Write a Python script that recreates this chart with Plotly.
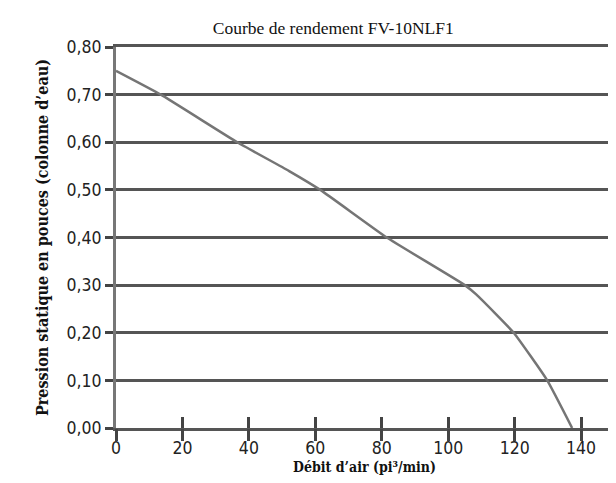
import plotly.graph_objects as go

# Data
airflow = [0, 13.5, 36.5, 52, 61.5, 81.5, 105, 108.5, 119.7, 129.8, 137.3]
pressure = [0.75, 0.70, 0.60, 0.54, 0.50, 0.40, 0.30, 0.28, 0.20, 0.10, 0.00]

x_ticks = [0, 20, 40, 60, 80, 100, 120, 140]
y_ticks = [0.0, 0.1, 0.2, 0.3, 0.4, 0.5, 0.6, 0.7, 0.8]
y_tick_labels = ["0,00", "0,10", "0,20", "0,30", "0,40", "0,50", "0,60", "0,70", "0,80"]

title_text = "Courbe de rendement FV-10NLF1"
x_title = "Débit d’air (pi³/min)"
y_title = "Pression statique en pouces (colonne d’eau)"

tick_font = dict(family="Liberation Sans Narrow, DejaVu Sans Condensed, sans-serif", size=17.5, color="#222")
xt_font = dict(family="DejaVu Serif Condensed, DejaVu Serif, serif", size=14, color="#111")
yt_font = dict(family="DejaVu Serif Condensed, DejaVu Serif, serif", size=16, color="#111")

x_range = [0, 149.6]

fig = go.Figure()
fig.add_trace(go.Scatter(
    x=airflow, y=pressure, mode="lines",
    line=dict(color="#757575", width=2.5, shape="spline", smoothing=0.4),
    hoverinfo="skip", showlegend=False,
))
# invisible traces registering the overlay axes used for the crossing tick marks
for ax in ["x2", "x3"]:
    fig.add_trace(go.Scatter(
        x=airflow, y=pressure, mode="lines", xaxis=ax,
        line=dict(color="rgba(0,0,0,0)", width=0),
        hoverinfo="skip", showlegend=False,
    ))

fig.update_layout(
    width=616, height=483,
    margin=dict(l=108, r=8, t=39, b=63),
    paper_bgcolor="white", plot_bgcolor="white",
    title=dict(text=title_text, x=0.528, xanchor="center", y=0.958, yanchor="middle",
               font=dict(family="Liberation Serif, serif", size=17.5, color="#111")),
    xaxis=dict(
        range=x_range, tickvals=x_ticks, ticks="outside", ticklen=2, tickwidth=1,
        tickcolor="rgba(0,0,0,0)", showgrid=False, zeroline=False,
        showline=True, linecolor="#555", linewidth=3, mirror=True,
        tickfont=tick_font, title=dict(text="<b>" + x_title + "</b>", font=xt_font, standoff=6),
    ),
    xaxis2=dict(
        range=x_range, tickvals=x_ticks, ticks="outside", ticklen=12, tickwidth=3,
        tickcolor="#444", showgrid=False, zeroline=False, showline=False,
        showticklabels=False, overlaying="x", anchor="y", side="bottom",
    ),
    xaxis3=dict(
        range=x_range, tickvals=x_ticks, ticks="inside", ticklen=11, tickwidth=3,
        tickcolor="#444", showgrid=False, zeroline=False, showline=False,
        showticklabels=False, overlaying="x", anchor="y", side="bottom",
    ),
    yaxis=dict(
        range=[0, 0.8], tickvals=y_ticks, ticktext=y_tick_labels,
        ticks="outside", ticklen=8, tickwidth=3, tickcolor="#444",
        showgrid=True, gridcolor="#555", gridwidth=2.5, zeroline=False,
        showline=True, linecolor="#777", linewidth=3, mirror=True,
        tickfont=tick_font, title=dict(text="<b>" + y_title + "</b>", font=yt_font, standoff=14),
    ),
)

fig.write_html("out.html")
